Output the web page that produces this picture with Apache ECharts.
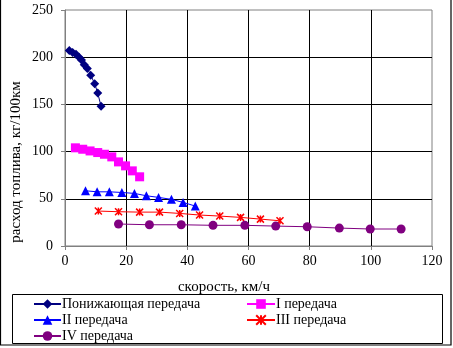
<!DOCTYPE html>
<html>
<head>
<meta charset="utf-8">
<script src="https://cdn.jsdelivr.net/npm/echarts@6/dist/echarts.min.js"></script>
<style>
  html, body { margin: 0; padding: 0; background: #fff; }
  #chart { width: 453px; height: 348px; }
</style>
</head>
<body>
<div id="chart"></div>
<script>
// Fuel consumption vs. speed for each gear
const seriesNames = ['Понижающая передача', 'I передача', 'II передача', 'III передача', 'IV передача'];

const lowGearSpeed = [1.4, 2.5, 3.6, 4.6, 5.4, 6.3, 7.3, 8.4, 9.7, 10.7, 11.8];
const lowGearFuel  = [207, 205, 203, 200, 197, 192, 188, 181, 172, 162, 148];

const gear1Speed = [3.4, 5.8, 8.2, 10.7, 12.9, 15.3, 17.5, 19.8, 22.0, 24.4];
const gear1Fuel  = [104, 102.5, 100.7, 99, 97.2, 94.4, 89.1, 84.9, 79.6, 73.3];

const gear2Speed = [6.7, 10.5, 14.5, 18.6, 22.7, 26.6, 30.6, 34.8, 38.6, 42.6];
const gear2Fuel  = [58.5, 57.4, 57.4, 56.7, 55.7, 53.2, 51.5, 49.4, 46.2, 42.3];

const gear3Speed = [10.9, 17.5, 24.4, 30.9, 37.5, 44.0, 50.6, 57.4, 63.9, 70.3];
const gear3Fuel  = [37, 36.3, 35.9, 35.9, 34.5, 32.8, 31.7, 30.3, 28.5, 26.7];

const gear4Speed = [17.5, 27.6, 38.0, 48.4, 58.8, 68.9, 79.2, 89.7, 99.8, 109.9];
const gear4Fuel  = [23.3, 22.5, 22.5, 21.9, 21.9, 21.1, 20.4, 19.0, 18.0, 18.0];

const xTicks = { min: 0, max: 120, interval: 20 };
const yTicks = { min: 0, max: 250, interval: 50 };

const pair = (xs, ys) => xs.map((x, i) => [x, ys[i]]);

const serif = "'Times New Roman', 'Liberation Serif', serif";
const starPath = 'path://M0,0L10,10M10,0L0,10M5,0L5,10';

function lineSeries(name, data, color, symbol, size, extra) {
  return Object.assign({
    name: name,
    type: 'line',
    data: data,
    symbol: symbol,
    symbolSize: size,
    showAllSymbol: true,
    lineStyle: { color: color, width: 1 },
    itemStyle: { color: color },
    emphasis: { disabled: true },
    animation: false,
    z: 3
  }, extra || {});
}

const legendText = { color: '#000', fontFamily: serif, fontSize: 14, lineHeight: 16, padding: [0, 0, 0, -4] };

const chart = echarts.init(document.getElementById('chart'), null, { renderer: 'canvas' });

chart.setOption({
  backgroundColor: '#fff',
  animation: false,
  grid: {
    left: 65, top: 10, right: 21, bottom: 102,
    show: true, borderColor: '#808080', borderWidth: 1
  },
  xAxis: {
    type: 'value',
    min: xTicks.min, max: xTicks.max, interval: xTicks.interval,
    axisLine: { show: true, lineStyle: { color: '#808080', width: 1 } },
    axisTick: { show: true, inside: false, length: 4, lineStyle: { color: '#808080' } },
    axisLabel: { color: '#000', fontFamily: serif, fontSize: 14, margin: 8 },
    splitLine: { show: true, showMinLine: false, showMaxLine: false, lineStyle: { color: '#000', width: 1 } }
  },
  yAxis: {
    type: 'value',
    min: yTicks.min, max: yTicks.max, interval: yTicks.interval,
    axisLine: { show: true, lineStyle: { color: '#808080', width: 1 } },
    axisTick: { show: true, inside: false, length: 4, lineStyle: { color: '#808080' } },
    axisLabel: { color: '#000', fontFamily: serif, fontSize: 14, margin: 12 },
    splitLine: { show: true, showMinLine: false, showMaxLine: false, lineStyle: { color: '#000', width: 1 } }
  },
  legend: [
    {
      data: [seriesNames[0], seriesNames[2], seriesNames[4]],
      orient: 'vertical', left: 33, top: 296, height: 60, padding: 0,
      itemWidth: 27, itemHeight: 12, itemGap: 0,
      textStyle: legendText,
      selectedMode: false
    },
    {
      data: [seriesNames[1], seriesNames[3]],
      orient: 'vertical', left: 246, top: 296, height: 60, padding: 0,
      itemWidth: 28, itemHeight: 12, itemGap: 0,
      textStyle: legendText,
      selectedMode: false
    }
  ],
  graphic: [
    {
      type: 'text', x: 224, y: 287,
      style: { text: 'скорость, км/ч', fill: '#000', font: '15px ' + serif, textAlign: 'center', textVerticalAlign: 'middle' }
    },
    {
      type: 'text', x: 16, y: 162, rotation: Math.PI / 2,
      style: { text: 'расход топлива, кг/100км', fill: '#000', font: '15px ' + serif, textAlign: 'center', textVerticalAlign: 'middle' }
    },
    {
      type: 'rect', shape: { x: 12.5, y: 294.5, width: 430, height: 49 },
      style: { fill: 'none', stroke: '#000', lineWidth: 1 }, z: -1
    },
    {
      type: 'rect', shape: { x: 0.5, y: -2, width: 450.5, height: 347 },
      style: { fill: 'none', stroke: '#000', lineWidth: 1.2 }
    }
  ],
  series: [
    lineSeries(seriesNames[0], pair(lowGearSpeed, lowGearFuel), '#000080', 'diamond', 9),
    lineSeries(seriesNames[1], pair(gear1Speed, gear1Fuel), '#FF00FF', 'rect', 9),
    lineSeries(seriesNames[2], pair(gear2Speed, gear2Fuel), '#0000FF', 'triangle', 9),
    lineSeries(seriesNames[3], pair(gear3Speed, gear3Fuel), '#FF0000', starPath, 7, {
      itemStyle: { color: 'none', borderColor: '#FF0000', borderWidth: 1.5 }
    }),
    lineSeries(seriesNames[4], pair(gear4Speed, gear4Fuel), '#800080', 'circle', 9)
  ]
});
</script>
</body>
</html>
